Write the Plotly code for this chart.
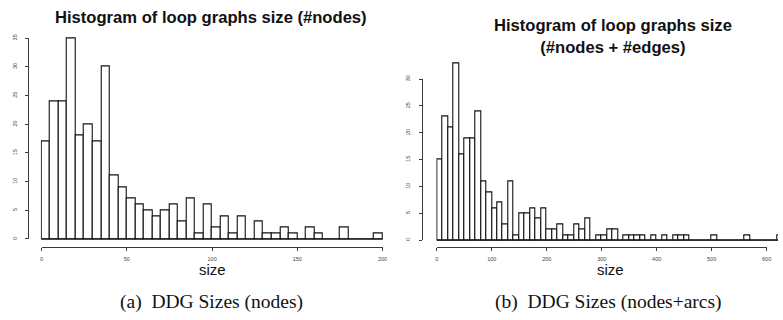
import plotly.graph_objects as go

W, H = 783, 320

# ---------------- data ----------------
nodes_bin_start = 0
nodes_bin_width = 5
nodes_counts = [17, 24, 24, 35, 18, 20, 17, 30, 11, 9,
                7, 6, 5, 4, 5, 6, 3, 7, 1, 6,
                2, 4, 1, 4, 0, 3, 1, 1, 2, 1,
                0, 2, 1, 0, 0, 2, 0, 0, 0, 1]
nodes_xticks = [0, 50, 100, 150, 200]
nodes_yticks = [0, 5, 10, 15, 20, 25, 30, 35]

total_bin_start = 0
total_bin_width = 10
total_counts = [15, 23, 21, 33, 16, 19, 19, 24, 11, 9,
                6, 7, 3, 11, 1, 5, 5, 6, 4, 6,
                2, 2, 3, 1, 1, 3, 2, 4, 0, 1,
                1, 2, 2, 0, 1, 1, 1, 1, 0, 1,
                0, 1, 0, 1, 1, 1, 0, 0, 0, 0,
                1, 0, 0, 0, 0, 0, 1, 0, 0, 0,
                0, 0, 1]
total_xticks = [0, 100, 200, 300, 400, 500, 600]
total_yticks = [0, 5, 10, 15, 20, 25, 30]

titles = ["<b>Histogram of loop graphs size (#nodes)</b>",
          "<b>Histogram of loop graphs size<br>(#nodes + #edges)</b>"]
xlabels = ["size", "size"]
captions = ["(a)\u00a0 DDG Sizes (nodes)", "(b)\u00a0 DDG Sizes (nodes+arcs)"]

# ---------------- layout geometry (pixels) ----------------
panels = [
    dict(counts=nodes_counts, start=nodes_bin_start, width=nodes_bin_width,
         xticks=nodes_xticks, yticks=nodes_yticks,
         x0px=40.0, x_ppu=344.0 / 200, y0px=238.7, y_ppu=204.0 / 35,
         yaxis_px=26.7, xaxis_py=246.7, xright_px=None,
         title_xy=(211, 13.4), label_xy=(212, 269.5), cap_xy=(211, 303)),
    dict(counts=total_counts, start=total_bin_start, width=total_bin_width,
         xticks=total_xticks, yticks=total_yticks,
         x0px=438.8, x_ppu=332.7 / 600, y0px=240.0, y_ppu=163.7 / 30,
         yaxis_px=424.0, xaxis_py=246.7, xright_px=782.9,
         title_xy=(617, 32.7), label_xy=(614, 269.5), cap_xy=(612, 303)),
]

fig = go.Figure()
layout = dict(width=W, height=H, margin=dict(l=0, r=0, t=0, b=0),
              paper_bgcolor="white", plot_bgcolor="rgba(0,0,0,0)",
              showlegend=False, bargap=0, annotations=[])

AX_COLOR = "#3a3a3a"
TICK_FONT = dict(family="Liberation Sans", size=5.5, color="#444")

for i, p in enumerate(panels):
    n = len(p["counts"])
    edges = [p["start"] + k * p["width"] for k in range(n + 1)]
    centers = [(edges[k] + edges[k + 1]) / 2 for k in range(n)]

    mx = f"x{2*i+1}" if i else "x"
    my = f"y{2*i+1}" if i else "y"
    dx = f"x{2*i+2}"
    dy = f"y{2*i+2}"

    def xpx(v):
        return p["x0px"] + v * p["x_ppu"]

    def ypx(v):
        return p["y0px"] - v * p["y_ppu"]

    # main (data) axes
    xlo = edges[0] - 0.1 * p["width"]
    if p["xright_px"] is None:
        xhi = edges[-1] + 0.1 * p["width"]
    else:
        xhi = (p["xright_px"] - p["x0px"]) / p["x_ppu"]
    ylo = -0.2
    yhi = max(p["counts"]) + 0.3

    fig.add_trace(go.Bar(x=centers, y=p["counts"], width=p["width"],
                         marker=dict(color="white", line=dict(color="#111", width=1.1)),
                         xaxis=mx, yaxis=my, hoverinfo="skip"))
    fig.add_trace(go.Scatter(x=[edges[0], edges[-1]], y=[0, 0], mode="lines",
                             line=dict(color="#111", width=1.1),
                             xaxis=mx, yaxis=my, hoverinfo="skip"))

    hidden = dict(showline=False, showticklabels=False, ticks="", showgrid=False,
                  zeroline=False, fixedrange=True)
    layout["xaxis" + mx[1:]] = dict(hidden, domain=[xpx(xlo) / W, min(1.0, xpx(xhi) / W)],
                                    range=[xlo, xhi], anchor=my)
    layout["yaxis" + my[1:]] = dict(hidden, domain=[1 - ypx(ylo) / H, 1 - ypx(yhi) / H],
                                    range=[ylo, yhi], anchor=mx)

    # display axes (R-style detached axes)
    xt0, xt1 = p["xticks"][0], p["xticks"][-1]
    yt0, yt1 = p["yticks"][0], p["yticks"][-1]
    fig.add_trace(go.Scatter(x=[None], y=[None], xaxis=dx, yaxis=dy, hoverinfo="skip"))
    layout["xaxis" + dx[1:]] = dict(domain=[xpx(xt0) / W, xpx(xt1) / W], range=[xt0, xt1],
                                    anchor="free", position=1 - p["xaxis_py"] / H,
                                    tickmode="array", tickvals=p["xticks"],
                                    ticktext=[str(t) for t in p["xticks"]],
                                    ticks="outside", ticklen=3.5, tickwidth=1, tickcolor=AX_COLOR,
                                    showline=True, linecolor=AX_COLOR, linewidth=1.2,
                                    showgrid=False, zeroline=False, tickfont=TICK_FONT,
                                    ticklabelstandoff=3, fixedrange=True)
    layout["yaxis" + dy[1:]] = dict(domain=[1 - ypx(yt0) / H, 1 - ypx(yt1) / H], range=[yt0, yt1],
                                    anchor="free", position=p["yaxis_px"] / W, side="left",
                                    tickmode="array", tickvals=p["yticks"],
                                    ticktext=[str(t) for t in p["yticks"]],
                                    ticks="outside", ticklen=3.5, tickwidth=1, tickcolor=AX_COLOR,
                                    showline=True, linecolor=AX_COLOR, linewidth=1.2,
                                    showgrid=False, zeroline=False, tickfont=TICK_FONT,
                                    tickangle=-90, ticklabelstandoff=6, fixedrange=True)

    tx, ty = p["title_xy"]
    layout["annotations"].append(dict(text=titles[i], x=tx / W, y=1 - ty / H, xref="paper",
                                      yref="paper", xanchor="center", yanchor="middle",
                                      showarrow=False,
                                      font=dict(family="Liberation Sans", size=16.6, color="#111")))
    lx, ly = p["label_xy"]
    layout["annotations"].append(dict(text=xlabels[i], x=lx / W, y=1 - ly / H, xref="paper",
                                      yref="paper", xanchor="center", yanchor="middle",
                                      showarrow=False,
                                      font=dict(family="Liberation Sans", size=15, color="#111")))
    cx, cy = p["cap_xy"]
    layout["annotations"].append(dict(text=captions[i], x=cx / W, y=1 - cy / H, xref="paper",
                                      yref="paper", xanchor="center", yanchor="middle",
                                      showarrow=False,
                                      font=dict(family="Liberation Serif", size=19.5, color="#111")))

fig.update_layout(**layout)
fig.write_html("out.html", config={"displayModeBar": False})
